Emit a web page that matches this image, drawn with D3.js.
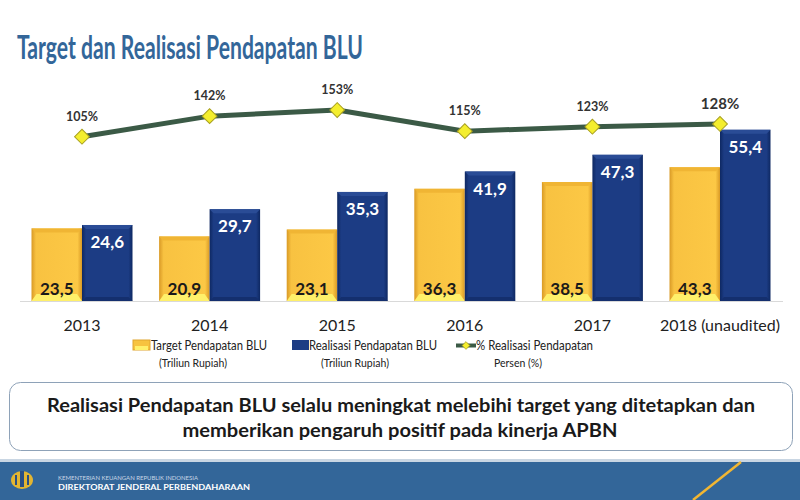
<!DOCTYPE html>
<html><head><meta charset="utf-8">
<script src="https://cdnjs.cloudflare.com/ajax/libs/d3/7.8.5/d3.min.js"></script>
<style>body{margin:0;background:#fff}svg{display:block}</style>
</head><body>
<script>
const years = ["2013","2014","2015","2016","2017","2018"];
const yearLabels = ["2013","2014","2015","2016","2017","2018 (unaudited)"];
const target = [23.5,20.9,23.1,36.3,38.5,43.3];
const realisasi = [24.6,29.7,35.3,41.9,47.3,55.4];
const persen = [105,142,153,115,123,128];
const targetLabels = ["23,5","20,9","23,1","36,3","38,5","43,3"];
const realLabels = ["24,6","29,7","35,3","41,9","47,3","55,4"];

const W=800,H=500;
const svg=d3.select("body").append("svg").attr("width",W).attr("height",H);
const F="Lato, 'Open Sans', sans-serif";

const defs=svg.append("defs");
function grad(id,stops){const g=defs.append("linearGradient").attr("id",id).attr("x1","0").attr("x2","1").attr("y1","0").attr("y2","0");
 stops.forEach(s=>g.append("stop").attr("offset",s[0]).attr("stop-color",s[1]));}
grad("gT",[["0%","#d99a26"],["9%","#f8c241"],["91%","#fcc845"],["100%","#d99a26"]]);
grad("gR",[["0%","#0e2862"],["8%","#1c3c84"],["92%","#1c3c84"],["100%","#0e2862"]]);

// Title
svg.append("text").attr("x",17).attr("y",59).attr("font-family",F).attr("font-weight",700)
 .attr("font-size",33).attr("fill","#336699").attr("textLength",346).attr("lengthAdjust","spacingAndGlyphs")
 .text("Target dan Realisasi Pendapatan BLU");

// Scales
const x0=d3.scaleBand().domain(years).range([31.5,770.5]).paddingInner(0.2085).paddingOuter(0);
const x1=d3.scaleBand().domain(["t","r"]).range([0,x0.bandwidth()]);
const y=d3.scaleLinear().domain([0,60]).range([301,301-60*3.09]);
const yp=d3.scaleLinear().domain([0,160]).range([195.1,195.1-160*0.556]);
const cx=d=>x0(d)+x0.bandwidth()/2;

// baseline
svg.append("line").attr("x1",20).attr("x2",783).attr("y1",y(0)+0.5).attr("y2",y(0)+0.5).attr("stroke","#d9d9d9").attr("stroke-width",1);

const g=svg.append("g");
years.forEach((yr,i)=>{
  const tx=x0(yr)+x1("t"), bw=x1.bandwidth(), ty=y(target[i]), th=y(0)-ty;
  g.append("rect").attr("x",tx).attr("y",ty).attr("width",bw).attr("height",th).attr("fill","url(#gT)");
  g.append("polygon").attr("points",[[tx,ty],[tx+bw,ty],[tx+bw-4,ty+4],[tx+4,ty+4]].join(" ")).attr("fill","#f0b534");
  g.append("polygon").attr("points",[[tx,y(0)],[tx+bw,y(0)],[tx+bw-5,y(0)-7],[tx+5,y(0)-7]].join(" ")).attr("fill","#fff06a");
  const rx=x0(yr)+x1("r"), ry=y(realisasi[i]), rh=y(0)-ry;
  g.append("rect").attr("x",rx).attr("y",ry).attr("width",bw).attr("height",rh).attr("fill","url(#gR)");
  g.append("polygon").attr("points",[[rx,ry],[rx+bw,ry],[rx+bw-4,ry+4],[rx+4,ry+4]].join(" ")).attr("fill","#2a4c96");
  g.append("polygon").attr("points",[[rx,y(0)],[rx+bw,y(0)],[rx+bw-4,y(0)-4],[rx+4,y(0)-4]].join(" ")).attr("fill","#142f6e");
  g.append("text").attr("x",tx+bw/2).attr("y",y(0)-6).attr("text-anchor","middle").attr("font-family",F)
   .attr("font-weight",700).attr("font-size",17).attr("fill","#1a1a1a").text(targetLabels[i]);
  g.append("text").attr("x",rx+bw/2).attr("y",ry+23).attr("text-anchor","middle").attr("font-family",F)
   .attr("font-weight",700).attr("font-size",17).attr("fill","#ffffff").text(realLabels[i]);
});

// line
const line=d3.line().x((d,i)=>cx(years[i])).y(d=>yp(d));
svg.append("path").datum(persen).attr("d",line).attr("fill","none").attr("stroke","#3b5a46").attr("stroke-width",5).attr("stroke-linejoin","round");
const sym=d3.symbol().type(d3.symbolSquare).size(110);
persen.forEach((p,i)=>{
  svg.append("path").attr("d",sym()).attr("transform",`translate(${cx(years[i])},${yp(p)}) rotate(45)`)
   .attr("fill","#f4ee2e").attr("stroke","#a8a020").attr("stroke-width",1);
  const big=i===5;
  svg.append("text").attr("x",cx(years[i])).attr("y",yp(p)-(big?15:16)).attr("text-anchor","middle").attr("font-family",F)
   .attr("font-weight",700).attr("font-size",big?15:12.5).attr("fill","#333").text(p+"%");
});

// x axis labels
const xa=d3.axisBottom(x0).tickSize(0).tickFormat((d,i)=>yearLabels[i]);
const ax=svg.append("g").attr("transform",`translate(0,${y(0)})`).call(xa);
ax.select(".domain").remove();
ax.selectAll("text").attr("font-family",F).attr("font-size",16).attr("fill","#222").attr("dy","0").attr("y",30);

// legend
const lg=svg.append("g").attr("font-family",F);
lg.append("rect").attr("x",133).attr("y",340).attr("width",17).attr("height",10).attr("fill","#f7c33f").attr("stroke","#e0a52e");
lg.append("rect").attr("x",135).attr("y",346).attr("width",13).attr("height",4).attr("fill","#fff06a");
lg.append("text").attr("x",151).attr("y",349.5).attr("font-size",12.5).attr("fill","#222").attr("textLength",116).attr("lengthAdjust","spacingAndGlyphs").text("Target Pendapatan BLU");
lg.append("text").attr("x",193).attr("y",367).attr("text-anchor","middle").attr("font-size",10.5).attr("fill","#222").text("(Triliun Rupiah)");
lg.append("rect").attr("x",292).attr("y",340).attr("width",17).attr("height",10).attr("fill","#1c3c84");
lg.append("text").attr("x",309).attr("y",349.5).attr("font-size",12.5).attr("fill","#222").attr("textLength",128).attr("lengthAdjust","spacingAndGlyphs").text("Realisasi Pendapatan BLU");
lg.append("text").attr("x",355).attr("y",367).attr("text-anchor","middle").attr("font-size",10.5).attr("fill","#222").text("(Triliun Rupiah)");
lg.append("line").attr("x1",456).attr("x2",476).attr("y1",345.5).attr("y2",345.5).attr("stroke","#3b5a46").attr("stroke-width",4);
lg.append("path").attr("d",d3.symbol().type(d3.symbolSquare).size(30)()).attr("transform","translate(466,345.5) rotate(45)").attr("fill","#f4ee2e").attr("stroke","#a8a020").attr("stroke-width",0.8);
lg.append("text").attr("x",476).attr("y",349.5).attr("font-size",12.5).attr("fill","#222").attr("textLength",117).attr("lengthAdjust","spacingAndGlyphs").text("% Realisasi Pendapatan");
lg.append("text").attr("x",518).attr("y",367).attr("text-anchor","middle").attr("font-size",10.5).attr("fill","#222").text("Persen (%)");

// box
svg.append("rect").attr("x",9.5).attr("y",382.5).attr("width",783).attr("height",68).attr("rx",11)
 .attr("fill","#fff").attr("stroke","#8ea2b8").attr("stroke-width",1);
svg.append("text").attr("x",401).attr("y",412).attr("text-anchor","middle").attr("font-family",F).attr("font-weight",700)
 .attr("font-size",19).attr("fill","#1a1a1a").attr("textLength",708).attr("lengthAdjust","spacingAndGlyphs")
 .text("Realisasi Pendapatan BLU selalu meningkat melebihi target yang ditetapkan dan");
svg.append("text").attr("x",400).attr("y",437).attr("text-anchor","middle").attr("font-family",F).attr("font-weight",700)
 .attr("font-size",19).attr("fill","#1a1a1a").attr("textLength",435).attr("lengthAdjust","spacingAndGlyphs")
 .text("memberikan pengaruh positif pada kinerja APBN");

// footer
svg.append("rect").attr("x",0).attr("y",459).attr("width",800).attr("height",3).attr("fill","#c9d6e3");
svg.append("rect").attr("x",0).attr("y",462).attr("width",800).attr("height",38).attr("fill","#336699");
svg.append("line").attr("x1",741).attr("y1",462).attr("x2",693).attr("y2",500).attr("stroke","#f2b632").attr("stroke-width",2.5);
const lo=svg.append("g").attr("transform","translate(22,480)");
lo.append("ellipse").attr("rx",11).attr("ry",9).attr("fill","#e3b531");
lo.append("rect").attr("x",-2).attr("y",-9).attr("width",4).attr("height",16).attr("fill","#2a4f85");
lo.append("rect").attr("x",-7).attr("y",-5).attr("width",2).attr("height",10).attr("fill","#2a4f85");
lo.append("rect").attr("x",5).attr("y",-5).attr("width",2).attr("height",10).attr("fill","#2a4f85");
svg.append("text").attr("x",58).attr("y",480).attr("font-family",F).attr("font-size",6).attr("fill","#c8d6e6").attr("textLength",140).attr("lengthAdjust","spacingAndGlyphs").text("KEMENTERIAN KEUANGAN REPUBLIK INDONESIA");
svg.append("text").attr("x",58).attr("y",490).attr("font-family",F).attr("font-weight",700).attr("font-size",7.5).attr("fill","#ffffff").attr("textLength",192).attr("lengthAdjust","spacingAndGlyphs").text("DIREKTORAT JENDERAL PERBENDAHARAAN");
</script>
</body></html>
